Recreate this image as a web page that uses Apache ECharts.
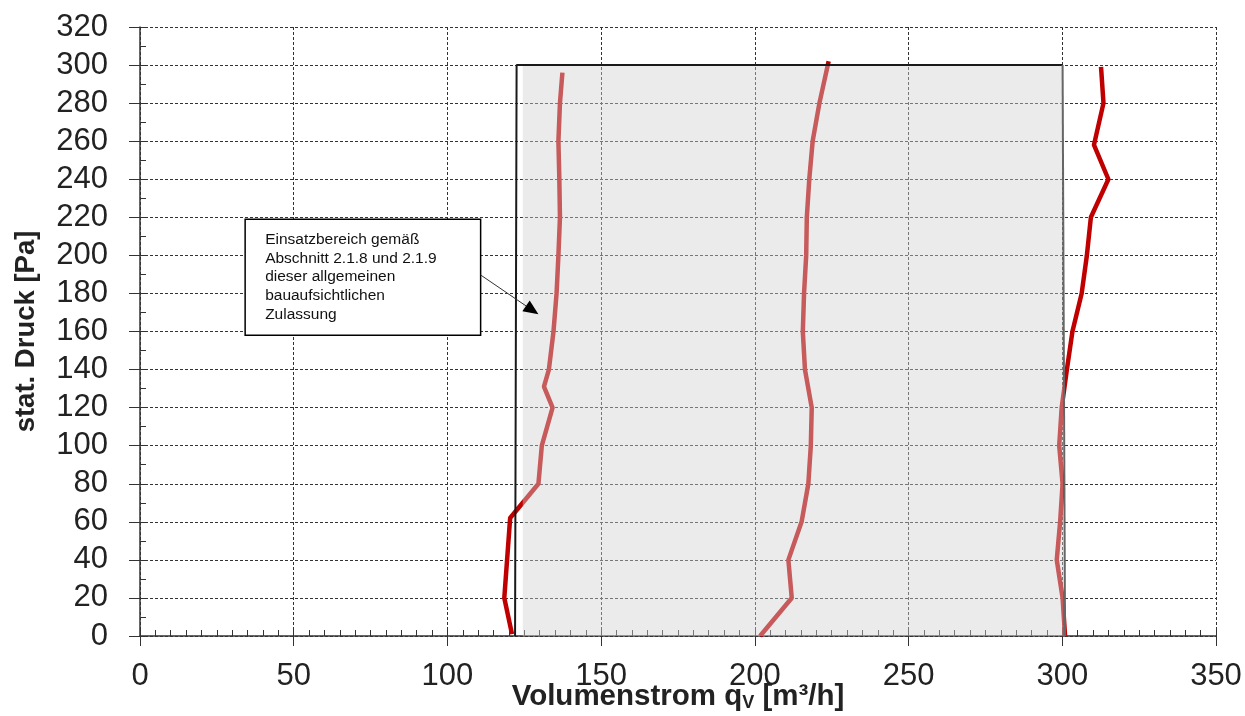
<!DOCTYPE html>
<html>
<head>
<meta charset="utf-8">
<script src="https://cdn.jsdelivr.net/npm/echarts@6/dist/echarts.min.js"></script>
<style>
html, body { margin: 0; padding: 0; background: #fff; }
#chart { width: 1245px; height: 716px; }
</style>
</head>
<body>
<div id="chart"></div>
<script>
// Kennlinien: stat. Druck [Pa] und Volumenstrom [m³/h]
const druck1 = [1, 20, 62, 80, 100, 120, 131, 140, 160, 180, 200, 220, 240, 260, 280, 296]
const strom1 = [121, 118.5, 120.4, 129.6, 130.7, 134.2, 131.4, 133, 134.5, 135.5, 136.1, 136.6, 136.4, 136.1, 136.6, 137.4]
const druck2 = [0, 20, 40, 60, 80, 100, 120, 140, 160, 180, 200, 220, 240, 260, 280, 302]
const strom2 = [201.7, 212, 210.9, 215.2, 217.4, 218.2, 218.5, 216.3, 215.6, 216, 216.7, 216.9, 217.7, 218.8, 221, 224]
const druck3 = [0, 20, 40, 60, 80, 100, 120, 140, 160, 180, 200, 220, 240, 258, 280, 299]
const strom3 = [300.9, 300.1, 298.2, 299.3, 300.1, 299, 299.8, 301.5, 303.3, 306.3, 308, 309.3, 315, 310.3, 313.4, 312.6]

// Einsatzbereich (Rahmen und Fläche)
const bereichStrom = [122, 122.5, 300.1, 300.9]
const bereichDruck = [0, 300, 300, 0]
const flaecheStrom = [124.5, 124.5, 300, 300.5]
const flaecheDruck = [0, 300, 300, 0]

// Achsenbeschriftung
const xTicks = [0, 50, 100, 150, 200, 250, 300, 350]
const yTicks = [0, 20, 40, 60, 80, 100, 120, 140, 160, 180, 200, 220, 240, 260, 280, 300, 320]

const pairs = (xs, ys) => xs.map((x, i) => [x, ys[i]])

const chartDom = document.getElementById('chart')
const myChart = echarts.init(chartDom)

const gridBox = { left: 140, right: 29, top: 27, bottom: 80, containLabel: false, outerBoundsMode: 'none' }
const font = 'Liberation Sans, Arial, sans-serif'
const dark = '#222'

const curve = (xs, ys) => ({
  type: 'line',
  data: pairs(xs, ys),
  showSymbol: false,
  z: 2,
  lineStyle: { color: '#c00000', width: 4.5 }
})

const option = {
  animation: false,
  backgroundColor: '#fff',
  grid: [
    Object.assign({}, gridBox),
    Object.assign({}, gridBox)
  ],
  xAxis: [
    {
      type: 'value',
      gridIndex: 0,
      min: xTicks[0],
      max: xTicks[xTicks.length - 1],
      interval: xTicks[1] - xTicks[0],
      name: '{b|Volumenstrom q}{s|V}{b| [m³/h]}',
      nameLocation: 'middle',
      nameGap: 46,
      nameMoveOverlap: false,
      nameTextStyle: {
        rich: {
          b: { fontFamily: font, fontSize: 29.5, fontWeight: 'bold', color: dark },
          s: { fontFamily: font, fontSize: 18, fontWeight: 'bold', color: dark, padding: [12, 0, 0, 0] }
        }
      },
      axisLine: { lineStyle: { color: '#333', width: 1.5 } },
      axisTick: { inside: false, length: 10, lineStyle: { color: '#333' } },
      axisLabel: { fontFamily: font, fontSize: 31, color: dark, margin: 25 },
      splitLine: { show: true, lineStyle: { color: '#333', type: [3, 2], width: 1 } }
    },
    {
      type: 'value',
      gridIndex: 1,
      min: xTicks[0],
      max: xTicks[xTicks.length - 1],
      interval: 5,
      axisLine: { show: false },
      axisTick: { inside: true, length: 6, lineStyle: { color: '#333' } },
      axisLabel: { show: false },
      splitLine: { show: false }
    }
  ],
  yAxis: [
    {
      type: 'value',
      gridIndex: 0,
      min: yTicks[0],
      max: yTicks[yTicks.length - 1],
      interval: yTicks[1] - yTicks[0],
      name: 'stat. Druck [Pa]',
      nameLocation: 'middle',
      nameGap: 100,
      nameMoveOverlap: false,
      nameTextStyle: { fontFamily: font, fontSize: 27.5, fontWeight: 'bold', color: dark },
      axisLine: { show: true, lineStyle: { color: '#333', width: 1.5 } },
      axisTick: { show: true, inside: false, length: 11, lineStyle: { color: '#333' } },
      axisLabel: { fontFamily: font, fontSize: 31, color: dark, margin: 32 },
      splitLine: { show: true, lineStyle: { color: '#333', type: [3, 2], width: 1 } }
    },
    {
      type: 'value',
      gridIndex: 1,
      min: yTicks[0],
      max: yTicks[yTicks.length - 1],
      interval: 10,
      axisLine: { show: false },
      axisTick: { show: true, inside: true, length: 6, lineStyle: { color: '#333' } },
      axisLabel: { show: false },
      splitLine: { show: false }
    }
  ],
  series: [
    curve(strom1, druck1),
    curve(strom2, druck2),
    curve(strom3, druck3),
    {
      // graue Fläche liegt halbtransparent über den Kurven
      type: 'line',
      data: pairs(flaecheStrom, flaecheDruck),
      showSymbol: false,
      z: 3,
      lineStyle: { width: 0 },
      areaStyle: { color: 'rgba(209,209,209,0.43)', opacity: 1 }
    },
    {
      type: 'line',
      data: pairs(bereichStrom.slice(0, 3), bereichDruck.slice(0, 3)),
      showSymbol: false,
      z: 4,
      lineStyle: { color: '#1a1a1a', width: 2 }
    },
    {
      type: 'line',
      data: pairs(bereichStrom.slice(2), bereichDruck.slice(2)),
      showSymbol: false,
      z: 4,
      lineStyle: { color: '#666', width: 2 }
    }
  ]
}

myChart.setOption(option)

// Notizfeld mit Pfeil, Lage in Achsenwerten
const px = (x, y) => myChart.convertToPixel({ gridIndex: 0 }, [x, y])
const boxA = px(34.2, 219)
const boxB = px(110.8, 158)
const arrowFrom = px(110.8, 189.7)
const arrowTo = px(129.6, 169)
const dx = arrowTo[0] - arrowFrom[0]
const dy = arrowTo[1] - arrowFrom[1]
const len = Math.sqrt(dx * dx + dy * dy)
const ux = dx / len
const uy = dy / len
const headLen = 15
const headHalf = 6.5
const base = [arrowTo[0] - ux * headLen, arrowTo[1] - uy * headLen]

myChart.setOption({
  graphic: [
    {
      type: 'rect',
      z: 100,
      shape: { x: boxA[0], y: boxA[1], width: boxB[0] - boxA[0], height: boxB[1] - boxA[1] },
      style: { fill: '#fff', stroke: '#000', lineWidth: 1.5 }
    },
    {
      type: 'text',
      z: 101,
      x: boxA[0] + 20,
      y: boxA[1] + 11,
      style: {
        text: 'Einsatzbereich gemäß\nAbschnitt 2.1.8 und 2.1.9\ndieser allgemeinen\nbauaufsichtlichen\nZulassung',
        fontFamily: font,
        fontSize: 15.5,
        lineHeight: 18.7,
        fill: '#111'
      }
    },
    {
      type: 'line',
      z: 101,
      shape: { x1: arrowFrom[0], y1: arrowFrom[1], x2: base[0], y2: base[1] },
      style: { stroke: '#333', lineWidth: 1 }
    },
    {
      type: 'polygon',
      z: 101,
      shape: {
        points: [
          arrowTo,
          [base[0] - uy * headHalf, base[1] + ux * headHalf],
          [base[0] + uy * headHalf, base[1] - ux * headHalf]
        ]
      },
      style: { fill: '#000' }
    }
  ]
})
</script>
</body>
</html>
